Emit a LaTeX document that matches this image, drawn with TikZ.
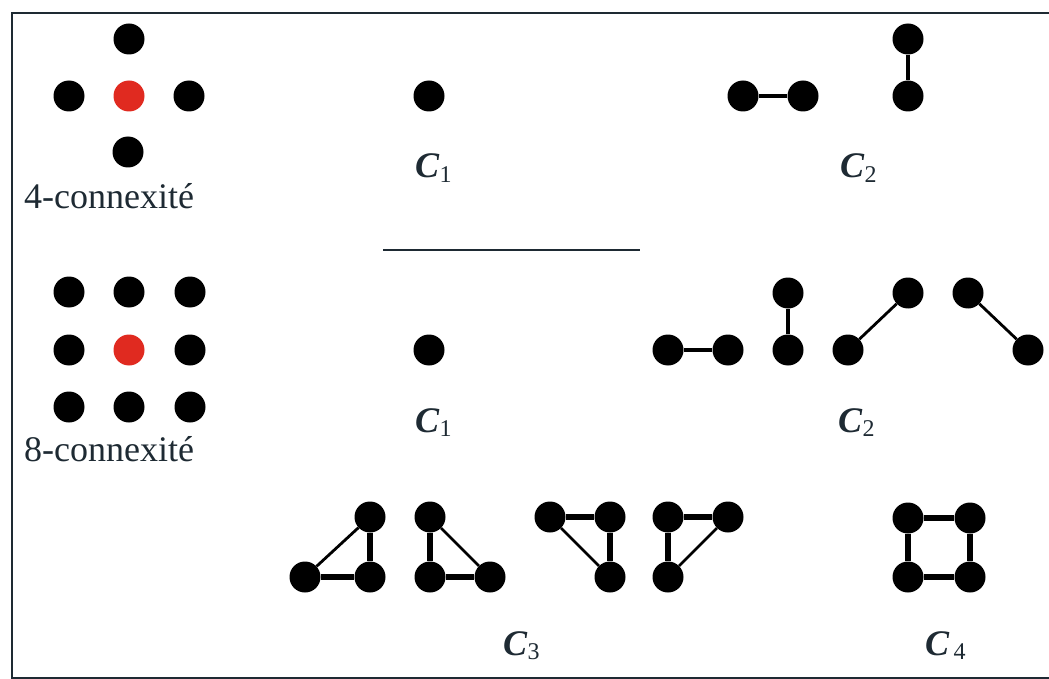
\documentclass[tikz,border=0pt]{standalone}
\usepackage{fontspec}
\setmainfont{Liberation Serif}
\usetikzlibrary{positioning,shapes.geometric}
\definecolor{ink}{HTML}{1E2A33}
\definecolor{seedred}{HTML}{E02A20}
\tikzset{%
  px/.style={circle,fill=black,minimum size=31pt,inner sep=0pt},
  seed/.style={px,fill=seedred},
  link/.style={line width=5.5pt},
  diag/.style={line width=2.8pt},
  lbl/.style={font=\fontsize{36}{40}\selectfont,text=ink,inner sep=0pt,anchor=base west}
}
\newcommand{\comp}[1]{\textbf{\textit{C}}\raisebox{-.25ex}{\fontsize{24}{28}\selectfont #1}}

\begin{document}
\begin{tikzpicture}[x=1pt,y=-1pt]
  \useasboundingbox (0,0) rectangle (1049,679);
  \draw[ink,line width=1.6pt] (12,13) rectangle (1060,678);

  % 4-connexite
  \node[seed] (f0) at (129,96) {};
  \node[px] (fn) at (129,39) {};
  \node[px] (fw) at (69,96) {};
  \node[px] (fe) at (189,96) {};
  \node[px] (fs) at (128,152) {};
  \node[lbl] (four) at (24,208) {4-connexit\'e};

  \node[px] (a1) at (429,96) {};
  \node[lbl] (ca1) at (415,178) {\comp{1}};

  \node[px] (a2) at (743,96) {};
  \node[px] (a3) at (803,96) {};
  \node[px] (a4) at (908,39) {};
  \node[px] (a5) at (908,96) {};
  \draw[line width=4pt] (a2) -- (a3);
  \draw[line width=4pt] (a4) -- (a5);
  \node[lbl] (ca2) at (840,178) {\comp{2}};

  \draw[ink,line width=2pt] (383,250) -- (640,250);

  % 8-connexite
  \foreach \i/\x in {1/69,2/129,3/190}
    \foreach \j/\y in {1/292,2/350,3/407}
      {\ifnum\i\j=22 \node[seed] (e\i\j) at (\x,\y) {};
       \else \node[px] (e\i\j) at (\x,\y) {}; \fi}
  \node[lbl] (eight) at (24,461) {8-connexit\'e};

  \node[px] (b1) at (429,350) {};
  \node[lbl] (cb1) at (415,432) {\comp{1}};

  \node[px] (b2) at (668,350) {};
  \node[px] (b3) at (728,350) {};
  \node[px] (b4) at (788,293) {};
  \node[px] (b5) at (788,350) {};
  \node[px] (b6) at (848,350) {};
  \node[px] (b7) at (908,293) {};
  \node[px] (b8) at (968,293) {};
  \node[px] (b9) at (1028,350) {};
  \draw[line width=4pt] (b2) -- (b3);
  \draw[line width=4pt] (b4) -- (b5);
  \draw[diag] (b6) -- (b7);
  \draw[diag] (b8) -- (b9);
  \node[lbl] (cb2) at (838,432) {\comp{2}};

  % triangles
  \node[px] (t1) at (370,517) {};
  \node[px] (t2) at (305,577) {};
  \node[px] (t3) at (370,577) {};
  \draw[link] (t1) -- (t3) -- (t2);
  \draw[diag] (t2) -- (t1);

  \node[px] (u1) at (430,517) {};
  \node[px] (u2) at (430,577) {};
  \node[px] (u3) at (490,577) {};
  \draw[link] (u1) -- (u2) -- (u3);
  \draw[diag] (u1) -- (u3);

  \node[px] (v1) at (550,517) {};
  \node[px] (v2) at (610,517) {};
  \node[px] (v3) at (610,577) {};
  \draw[link] (v1) -- (v2) -- (v3);
  \draw[diag] (v1) -- (v3);

  \node[px] (w1) at (668,517) {};
  \node[px] (w2) at (728,517) {};
  \node[px] (w3) at (668,577) {};
  \draw[link] (w2) -- (w1) -- (w3);
  \draw[diag] (w3) -- (w2);
  \node[lbl] (c3) at (503,655) {\comp{3}};

  % square
  \node[px] (s1) at (908,518) {};
  \node[px] (s2) at (970,518) {};
  \node[px] (s3) at (908,577) {};
  \node[px] (s4) at (970,577) {};
  \draw[link] (s1) -- (s2) -- (s4) -- (s3) -- (s1);
  \node[lbl] (c4) at (925,655) {\comp{\,4}};
\end{tikzpicture}
\end{document}
